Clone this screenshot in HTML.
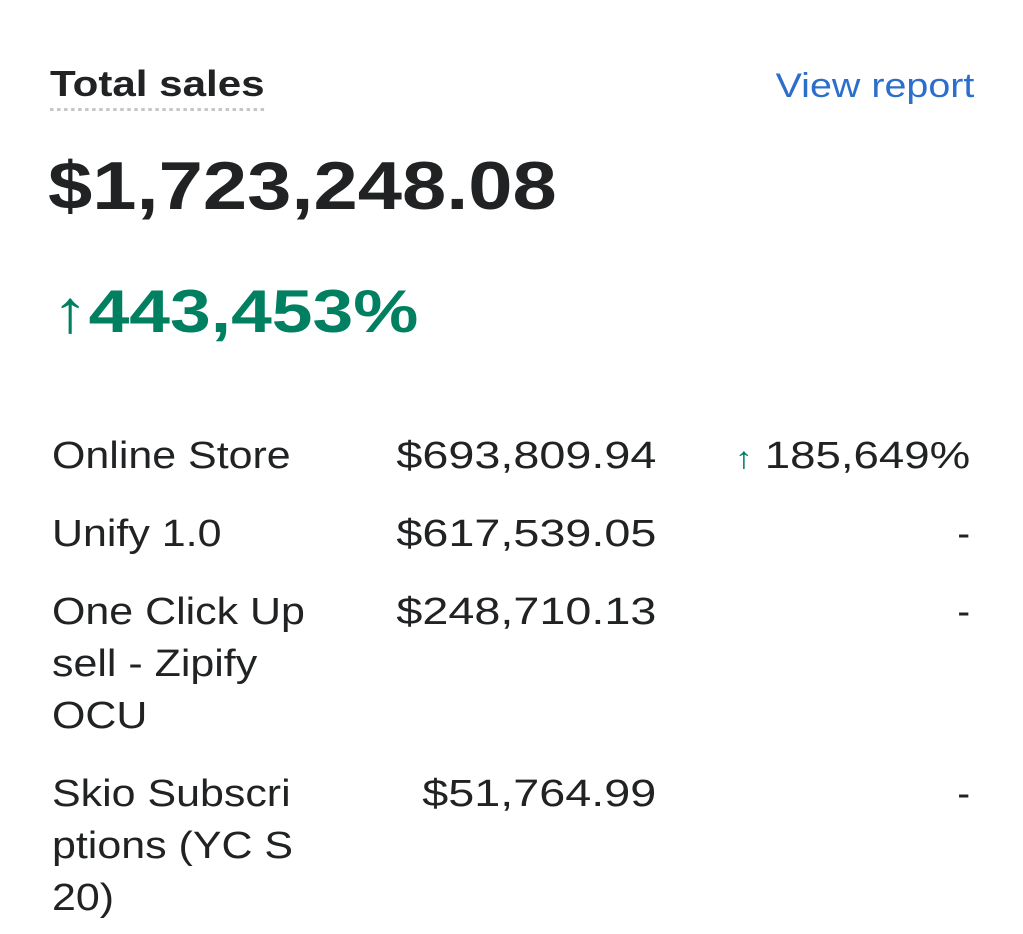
<!DOCTYPE html>
<html><head><meta charset="utf-8"><style>
html,body{margin:0;padding:0;background:#fff;width:1023px;height:934px;overflow:hidden}
body{font-family:"Liberation Sans",sans-serif;color:#202223;position:relative}
.a{position:absolute;white-space:nowrap}
.row{font-size:38px;line-height:52px}
.n{transform:scaleX(1.13);transform-origin:left top}
.v{right:367px;transform:scaleX(1.23);transform-origin:right top}
.r{text-align:right}
</style></head><body>
<div class="a" style="left:50px;top:62px;font-size:36px;line-height:44px;font-weight:bold;transform:scaleX(1.17);transform-origin:left top;border-bottom:3px dotted #c4c7ca;padding-bottom:2px">Total sales</div>
<div class="a" style="right:49px;top:64px;font-size:34px;line-height:44px;color:#2c6ecb;transform:scaleX(1.16);transform-origin:right top">View report</div>
<div class="a" style="left:48px;top:146px;font-size:68px;line-height:80px;font-weight:bold;transform:scaleX(1.17);transform-origin:left top">$1,723,248.08</div>
<div class="a" style="left:52px;top:276px;font-size:60px;line-height:72px;color:#008060;font-weight:bold;transform:scaleX(1.22);transform-origin:left top">↑443,453%</div>

<div class="a row n" style="left:52px;top:430px">Online Store</div>
<div class="a row r v" style="top:430px">$693,809.94</div>
<div class="a row r" style="right:53px;top:430px;transform:scaleX(1.2);transform-origin:right top"><span style="color:#008060;font-size:30px;margin-right:10px">↑</span>185,649%</div>

<div class="a row n" style="left:52px;top:508px">Unify 1.0</div>
<div class="a row r v" style="top:508px">$617,539.05</div>
<div class="a row r" style="right:53px;top:508px">-</div>

<div class="a row n" style="left:52px;top:586px">One Click Up<br>sell - Zipify<br>OCU</div>
<div class="a row r v" style="top:586px">$248,710.13</div>
<div class="a row r" style="right:53px;top:586px">-</div>

<div class="a row n" style="left:52px;top:768px">Skio Subscri<br>ptions (YC S<br>20)</div>
<div class="a row r v" style="top:768px">$51,764.99</div>
<div class="a row r" style="right:53px;top:768px">-</div>
</body></html>
